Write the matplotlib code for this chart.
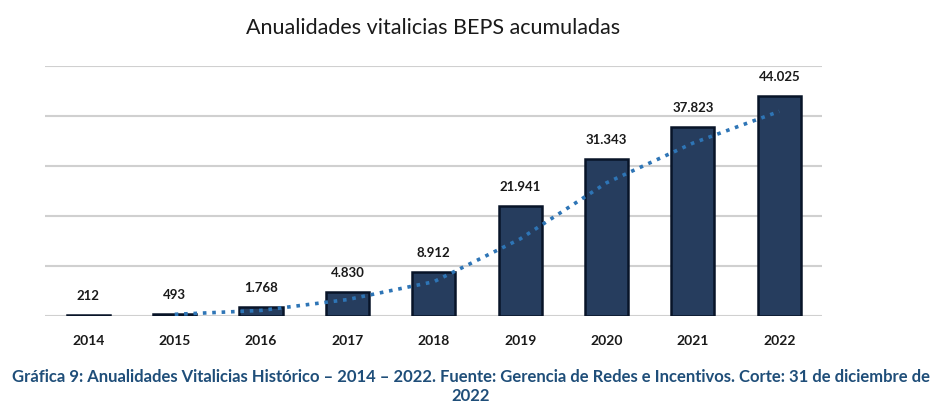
import numpy as np
import pandas as pd
import matplotlib
matplotlib.use('Agg')
import matplotlib.pyplot as plt

# Datos del grafico
years = ['2014', '2015', '2016', '2017', '2018', '2019', '2020', '2021', '2022']
values = [212, 493, 1768, 4830, 8912, 21941, 31343, 37823, 44025]

title = 'Anualidades vitalicias BEPS acumuladas'
caption_1 = 'Gráfica 9: Anualidades Vitalicias Histórico – 2014 – 2022. Fuente: Gerencia de Redes e Incentivos. Corte: 31 de diciembre de'
caption_2 = '2022'

plt.rcParams['font.family'] = ['Lato', 'DejaVu Sans']

# Linea de tendencia: media movil de 2 periodos
trend = pd.Series(values).rolling(2).mean()

fig = plt.figure(figsize=(9.41, 4.06), dpi=100)
ax = fig.add_axes([0.048, 0.219, 0.826, 0.616])

x = np.arange(len(years))
ax.bar(x, values, width=0.5, color='#263d5e', edgecolor='#081428', linewidth=1.8, zorder=3)
ax.plot(x, trend, color='#2e75b6', linestyle=(0, (1, 1.6)), linewidth=2.6, zorder=4)

for xi, v in zip(x, values):
    label = f'{v:,}'.replace(',', '.')
    ax.annotate(label, (xi, v), xytext=(0, 10), textcoords='offset points',
                ha='center', va='bottom', fontsize=9.5, fontweight='bold', color='#1a1a1a')

ax.set_xlim(-0.5, len(years) - 0.5)
ax.set_ylim(0, 50000)
ax.set_yticks(np.arange(0, 50001, 10000))
ax.yaxis.grid(True, color='#d0d0d0', linewidth=1.5, zorder=0)
ax.set_axisbelow(True)
ax.tick_params(axis='y', left=False, labelleft=False)
ax.tick_params(axis='x', length=0, pad=13)
ax.set_xticks(x)
ax.set_xticklabels(years, fontsize=10, fontweight='bold', color='#1a1a1a')
for s in ax.spines.values():
    s.set_visible(False)

fig.text(0.46, 0.93, title, ha='center', va='center', fontsize=15.5, color='#1a1a1a')
fig.text(0.5, 0.072, caption_1, ha='center', va='center', fontsize=12, fontweight='bold', color='#1f4e79')
fig.text(0.5, 0.025, caption_2, ha='center', va='center', fontsize=12, fontweight='bold', color='#1f4e79')

fig.savefig('out.png', dpi=100)
plt.close(fig)
